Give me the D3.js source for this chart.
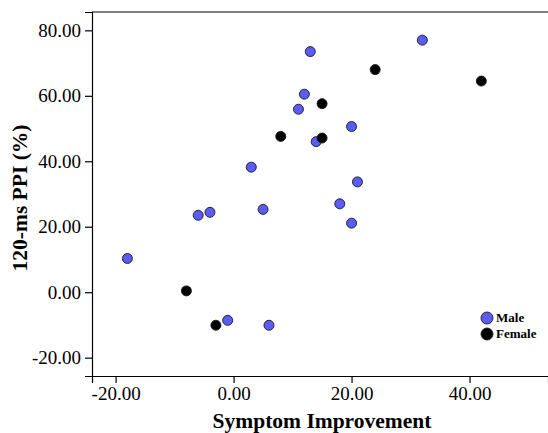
<!DOCTYPE html>
<html>
<head>
<meta charset="utf-8">
<script src="https://cdn.jsdelivr.net/npm/d3@7"></script>
<style>
  body { margin: 0; background: #fff; }
  text { font-family: "Liberation Serif", "Times New Roman", serif; }
  .axis path, .axis line { stroke: #000; stroke-width: 1.2px; }
  .axis text { font-size: 19px; fill: #000; }
</style>
</head>
<body>
<div id="chart"></div>
<script>
// symptom improvement vs 120-ms PPI, split by sex
var maleX = [-18, -6, -4, -1, 3, 5, 6, 11, 12, 13, 14, 18, 20, 20, 21, 32];
var maleY = [10.3, 23.5, 24.4, -8.6, 38.2, 25.3, -10.1, 55.9, 60.5, 73.5, 46.0, 27.0, 50.6, 21.1, 33.7, 77.0];
var femaleX = [-8, -3, 8, 15, 15, 24, 42];
var femaleY = [0.4, -10.1, 47.6, 57.6, 47.1, 68.0, 64.5];
var xTicks = [-20, 0, 20, 40];
var yTicks = [-20, 0, 20, 40, 60, 80];
var groups = ["Male", "Female"];

var fullWidth = 548, fullHeight = 433;
var margin = {top: 12, right: 0, bottom: 57, left: 92},
  width = fullWidth - margin.left - margin.right,
  height = fullHeight - margin.top - margin.bottom;

var colors = {Male: "#5b5bf5", Female: "#000"};

// plain hyphen instead of d3's unicode minus
var fmt = function(d) { return d3.format(".2f")(d).replace("\u2212", "-"); };

var xScale = d3.scaleLinear().domain([-24, 53.3]).range([0, width]);
var yScale = d3.scaleLinear().domain([-25.6, 85.6]).range([height, 0]);

var svg = d3.select("#chart").append("svg")
  .attr("width", fullWidth)
  .attr("height", fullHeight)
  .append("g")
  .attr("transform", "translate(" + margin.left + "," + margin.top + ")");

// top border of the frame
svg.append("line")
  .attr("x1", 0).attr("x2", width)
  .attr("y1", 0).attr("y2", 0)
  .attr("stroke", "#000").attr("stroke-width", 1.2);

svg.append("g")
  .attr("class", "x axis")
  .attr("transform", "translate(0," + height + ")")
  .call(d3.axisBottom(xScale).tickValues(xTicks).tickFormat(fmt).tickSizeOuter(0).tickSize(7).tickPadding(4));

svg.append("g")
  .attr("class", "y axis")
  .call(d3.axisLeft(yScale).tickValues(yTicks).tickFormat(fmt).tickSizeOuter(0).tickSize(7).tickPadding(4));

// axis titles
svg.append("text")
  .attr("x", width / 2 + 2)
  .attr("y", height + 52)
  .style("text-anchor", "middle")
  .style("font-weight", "bold")
  .style("font-size", "21.5px")
  .text("Symptom Improvement");

svg.append("text")
  .attr("transform", "rotate(-90)")
  .attr("x", -186)
  .attr("y", -margin.left + 27)
  .style("text-anchor", "middle")
  .style("font-weight", "bold")
  .style("font-size", "21.5px")
  .text("120-ms PPI (%)");

// points
function drawPoints(xs, ys, name) {
  svg.selectAll(".pt-" + name)
    .data(xs.map(function(x, i) { return {x: x, y: ys[i]}; }))
    .enter()
    .append("circle")
    .attr("class", "pt-" + name)
    .attr("cx", function(d) { return xScale(d.x); })
    .attr("cy", function(d) { return yScale(d.y); })
    .attr("r", 5)
    .attr("fill", colors[name])
    .attr("stroke", "#1a1a1a")
    .attr("stroke-width", 0.9);
}
drawPoints(maleX, maleY, "Male");
drawPoints(femaleX, femaleY, "Female");

// legend
var legend = svg.selectAll(".legend")
  .data(groups)
  .enter()
  .append("g")
  .attr("class", "legend")
  .attr("transform", function(d, i) {
    return "translate(" + (width - 61) + "," + (306 + i * 16) + ")";
  });

legend.append("circle")
  .attr("r", 6)
  .attr("fill", function(d) { return colors[d]; })
  .attr("stroke", "#1a1a1a")
  .attr("stroke-width", 0.9);

legend.append("text")
  .attr("x", 9)
  .attr("y", 4)
  .style("font-size", "13px")
  .style("font-weight", "bold")
  .text(function(d) { return d; });
</script>
</body>
</html>
